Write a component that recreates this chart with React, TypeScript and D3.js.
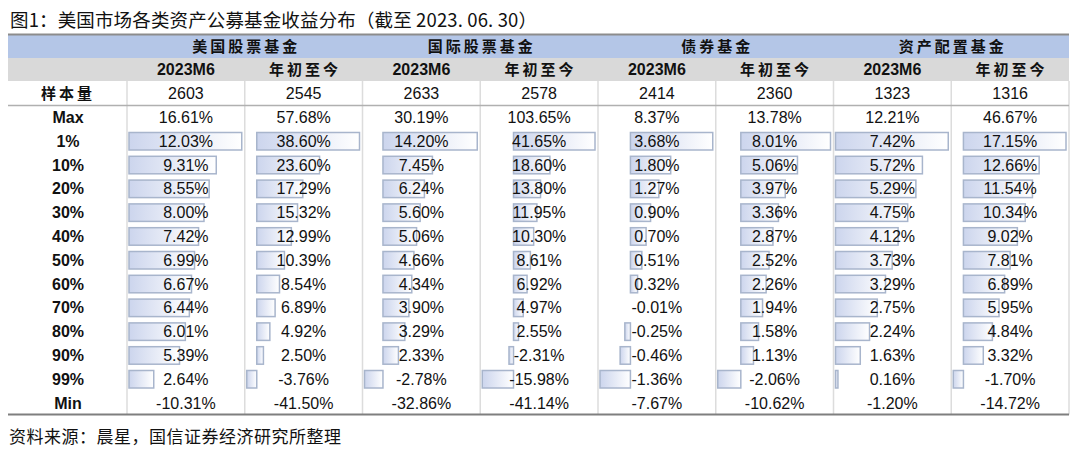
import React from "react";
import * as d3 from "d3";

const title = "图1：美国市场各类资产公募基金收益分布（截至 2023. 06. 30）";
const source = "资料来源：晨星，国信证券经济研究所整理";

const groups = ["美国股票基金", "国际股票基金", "债券基金", "资产配置基金"];
const periods = ["2023M6", "年初至今"];
const rowLabels = ["Max", "1%", "10%", "20%", "30%", "40%", "50%", "60%", "70%", "80%", "90%", "99%", "Min"];
const sampleSizes = [2603, 2545, 2633, 2578, 2414, 2360, 1323, 1316];

const usEquityM6 = [16.61, 12.03, 9.31, 8.55, 8.0, 7.42, 6.99, 6.67, 6.44, 6.01, 5.39, 2.64, -10.31];
const usEquityYtd = [57.68, 38.6, 23.6, 17.29, 15.32, 12.99, 10.39, 8.54, 6.89, 4.92, 2.5, -3.76, -41.5];
const intlEquityM6 = [30.19, 14.2, 7.45, 6.24, 5.6, 5.06, 4.66, 4.34, 3.9, 3.29, 2.33, -2.78, -32.86];
const intlEquityYtd = [103.65, 41.65, 18.6, 13.8, 11.95, 10.3, 8.61, 6.92, 4.97, 2.55, -2.31, -15.98, -41.14];
const bondM6 = [8.37, 3.68, 1.8, 1.27, 0.9, 0.7, 0.51, 0.32, -0.01, -0.25, -0.46, -1.36, -7.67];
const bondYtd = [13.78, 8.01, 5.06, 3.97, 3.36, 2.87, 2.52, 2.26, 1.94, 1.58, 1.13, -2.06, -10.62];
const allocM6 = [12.21, 7.42, 5.72, 5.29, 4.75, 4.12, 3.73, 3.29, 2.75, 2.24, 1.63, 0.16, -1.2];
const allocYtd = [46.67, 17.15, 12.66, 11.54, 10.34, 9.02, 7.81, 6.89, 5.95, 4.84, 3.32, -1.7, -14.72];

const columns = [usEquityM6, usEquityYtd, intlEquityM6, intlEquityYtd, bondM6, bondYtd, allocM6, allocYtd];

const latin = "'Liberation Sans', Arial, sans-serif";
const cjk = "'Noto Sans CJK SC', 'Liberation Sans', sans-serif";

const App = () => {
  const tableLeft = 8;
  const tableRight = 1069;
  // column boundaries (label column + 8 data columns)
  const colX = d3.scaleLinear().domain([0, 8]).range([127, tableRight]);
  const colW = colX(1) - colX(0);
  // row centers for Max..Min
  const rowY = d3.scaleLinear().domain([0, 12]).range([117.2, 402.8]);
  const headTop = 35;
  const head1Bottom = 58;
  const head2Bottom = 81;
  const sampleBottom = 105.5;
  const tableBottom = 414.5;

  const fmt = (v: number) => v.toFixed(2) + "%";

  return (
    <svg width={1080} height={456} style={{ position: "absolute", left: 0, top: 0, background: "#fff" }}>
      <defs>
        <linearGradient id="barGrad" x1="0" x2="1" y1="0" y2="0">
          <stop offset="0%" stopColor="#ccd5ed" />
          <stop offset="100%" stopColor="#ffffff" />
        </linearGradient>
      </defs>

      <text x={10} y={26.5} fontFamily={cjk} fontSize={18.5} fill="#111" textLength={527} lengthAdjust="spacing">
        {title}
      </text>

      {/* header bands */}
      <rect x={tableLeft} y={headTop} width={tableRight - tableLeft} height={head1Bottom - headTop} fill="#b4c6e7" />
      <rect x={tableLeft} y={head1Bottom} width={tableRight - tableLeft} height={head2Bottom - head1Bottom} fill="#d9d9d9" />
      <line x1={tableLeft} x2={tableRight} y1={34.5} y2={34.5} stroke="#8c8c8c" strokeWidth={2} />

      {groups.map((g, i) => (
        <text
          key={g}
          x={colX(i * 2 + 1) + 1.5}
          y={(headTop + head1Bottom) / 2 + 5.5}
          textAnchor="middle"
          fontFamily={cjk}
          fontWeight={700}
          fontSize={15}
          letterSpacing={3}
          fill="#111"
        >
          {g}
        </text>
      ))}

      {d3.range(8).map((i) => {
        const p = periods[i % 2];
        const isCjk = i % 2 === 1;
        return (
          <text
            key={"p" + i}
            x={colX(i) + colW / 2 + (isCjk ? 1.5 : 0)}
            y={(head1Bottom + head2Bottom) / 2 + 5.5}
            textAnchor="middle"
            fontFamily={isCjk ? cjk : latin}
            fontWeight={700}
            fontSize={isCjk ? 15 : 16}
            letterSpacing={isCjk ? 3 : 0}
            fill="#111"
          >
            {p}
          </text>
        );
      })}

      {/* vertical dividers */}
      {d3.range(9).map((i) => (
        <line
          key={"v" + i}
          x1={colX(i)}
          x2={colX(i)}
          y1={head2Bottom}
          y2={tableBottom}
          stroke="#dcdcdc"
          strokeWidth={1.5}
        />
      ))}

      {/* sample size row */}
      <text
        x={68}
        y={(head2Bottom + sampleBottom) / 2 + 5.5}
        textAnchor="middle"
        fontFamily={cjk}
        fontWeight={700}
        fontSize={15}
        letterSpacing={3}
        fill="#111"
      >
        样本量
      </text>
      {sampleSizes.map((s, i) => (
        <text
          key={"s" + i}
          x={colX(i) + colW / 2}
          y={(head2Bottom + sampleBottom) / 2 + 5.8}
          textAnchor="middle"
          fontFamily={latin}
          fontSize={16}
          fill="#111"
        >
          {s}
        </text>
      ))}
      <line x1={tableLeft} x2={tableRight} y1={sampleBottom} y2={sampleBottom} stroke="#b0b0b0" strokeWidth={1.5} />

      {/* data bars (1% .. 99%) */}
      {columns.map((col, ci) => {
        const barVals = col.slice(1, 12);
        const lo = Math.min(0, d3.min(barVals) as number);
        const hi = Math.max(0, d3.max(barVals) as number);
        const x = d3.scaleLinear().domain([lo, hi]).range([colX(ci) + 2, colX(ci + 1) - 3]);
        return barVals.map((v, ri) => {
          const cy = rowY(ri + 1);
          const x0 = Math.min(x(0), x(v));
          const w = Math.abs(x(v) - x(0));
          if (w < 0.5) return null;
          return (
            <rect
              key={"b" + ci + "-" + ri}
              x={x0}
              y={cy - 8.5}
              width={w}
              height={17.5}
              fill="url(#barGrad)"
              stroke="#a8b5cc"
              strokeWidth={1.5}
            />
          );
        });
      })}

      {/* row labels */}
      {rowLabels.map((r, ri) => (
        <text
          key={"r" + ri}
          x={68}
          y={rowY(ri) + 5.8}
          textAnchor="middle"
          fontFamily={latin}
          fontWeight={700}
          fontSize={16}
          fill="#111"
        >
          {r}
        </text>
      ))}

      {/* values */}
      {columns.map((col, ci) =>
        col.map((v, ri) => (
          <text
            key={"t" + ci + "-" + ri}
            x={colX(ci) + colW / 2}
            y={rowY(ri) + 5.8}
            textAnchor="middle"
            fontFamily={latin}
            fontSize={16}
            fill="#111"
          >
            {fmt(v)}
          </text>
        ))
      )}

      <line x1={tableLeft} x2={tableRight} y1={tableBottom} y2={tableBottom} stroke="#7f7f7f" strokeWidth={2} />

      <text x={9} y={443} fontFamily={cjk} fontSize={17} fill="#111" textLength={332} lengthAdjust="spacing">
        {source}
      </text>
    </svg>
  );
};

export default App;
